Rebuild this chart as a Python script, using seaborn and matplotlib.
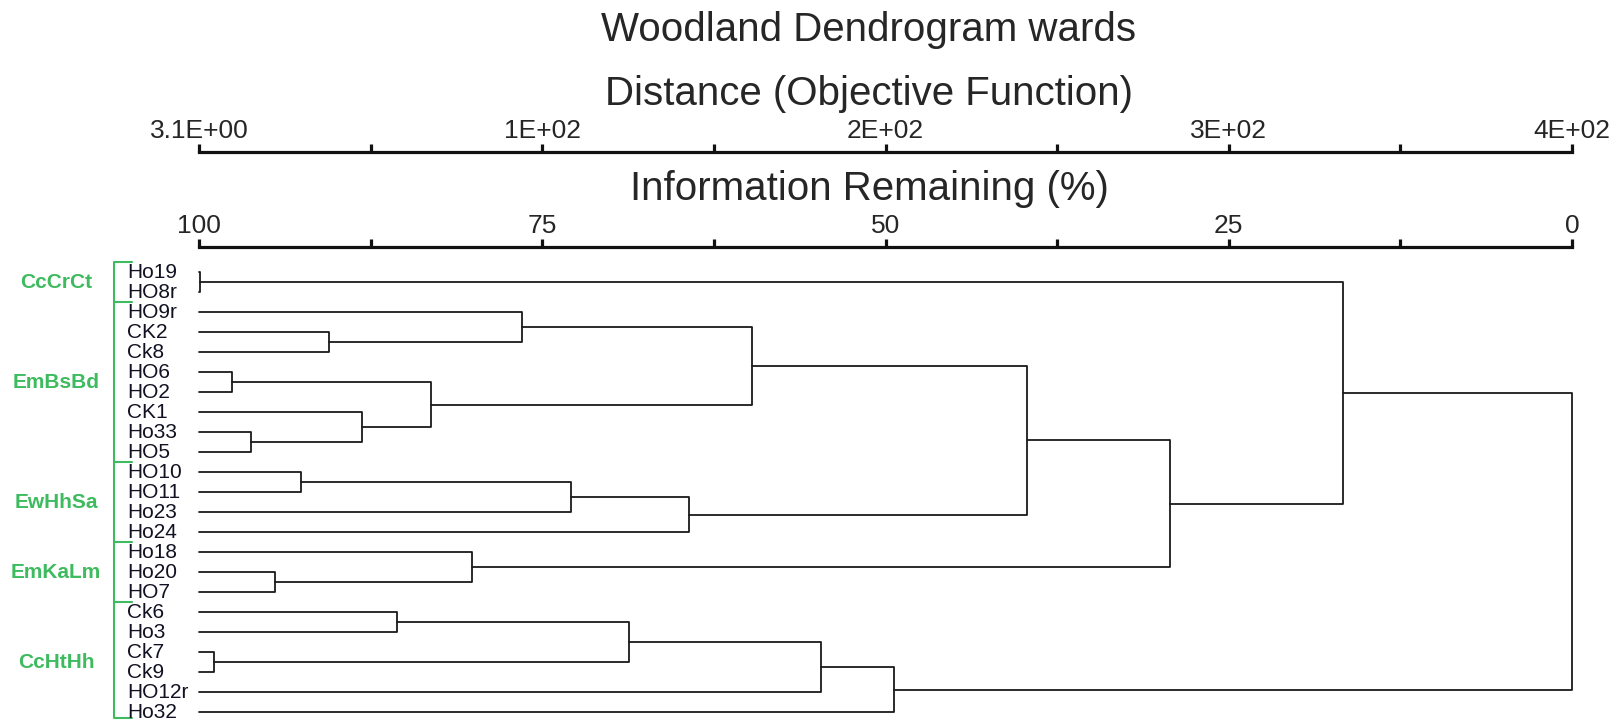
import numpy as np
import pandas as pd
import matplotlib
matplotlib.use("Agg")
import matplotlib.pyplot as plt
import matplotlib.transforms as mtrans
import seaborn as sns

# leaves, top to bottom
leaves = ["Ho19", "HO8r", "HO9r", "CK2", "Ck8", "HO6", "HO2", "CK1", "Ho33", "HO5",
          "HO10", "HO11", "Ho23", "Ho24", "Ho18", "Ho20", "HO7", "Ck6", "Ho3", "Ck7",
          "Ck9", "HO12r", "Ho32"]

# merges: left child, right child, information remaining (%) at the merge
merge_left = ["Ho19", "CK2", "HO9r", "HO6", "Ho33", "CK1", "m3", "m2", "HO10", "m8", "m9",
              "m7", "Ho20", "Ho18", "m11", "m0", "Ck6", "Ck7", "m16", "m18", "m19", "m15"]
merge_right = ["HO8r", "Ck8", "m1", "HO2", "HO5", "m4", "m5", "m6", "HO11", "Ho23", "Ho24",
               "m10", "HO7", "m12", "m13", "m14", "Ho3", "Ck9", "m17", "HO12r", "Ho32", "m20"]
merge_info = [99.92, 90.5, 76.5, 97.6, 96.2, 88.1, 83.1, 59.7, 92.6, 72.9, 64.3,
              39.7, 94.5, 80.1, 29.3, 16.7, 85.6, 98.9, 68.7, 54.7, 49.4, 0.0]

# groups: name, first leaf index, last leaf index
group_names = ["CcCrCt", "EmBsBd", "EwHhSa", "EmKaLm", "CcHtHh"]
group_start = [0, 2, 10, 14, 17]
group_end = [1, 9, 13, 16, 22]

info_ticks = [100, 75, 50, 25, 0]
info_minor = [87.5, 62.5, 37.5, 12.5]
info_labels = ["100", "75", "50", "25", "0"]
dist_labels = ["3.1E+00", "1E+02", "2E+02", "3E+02", "4E+02"]

# ---- build dendrogram segments
pos = {name: (100.0, float(i)) for i, name in enumerate(leaves)}
rows = []
for k, (a, b, h) in enumerate(zip(merge_left, merge_right, merge_info)):
    xa, ya = pos[a]
    xb, yb = pos[b]
    for x, y in [(xa, ya), (h, ya), (h, yb), (xb, yb)]:
        rows.append({"x": x, "y": y, "seg": k})
    pos["m%d" % k] = (h, (ya + yb) / 2)
segs = pd.DataFrame(rows)

sns.set_style("white")
plt.rcParams["font.family"] = ["Liberation Sans", "DejaVu Sans"]

W, H = 1618, 722
fig = plt.figure(figsize=(W / 100, H / 100), dpi=100)

x0, x1 = 199, 1572
left = x0 / W
width = (x1 - x0) / W
top_px = 262.3
ax = fig.add_axes([left, 0, width, (H - top_px) / H])
sns.lineplot(data=segs, x="x", y="y", units="seg", estimator=None, sort=False,
             color="#1a1a1a", lw=1.3, ax=ax)
for ln in ax.lines:
    ln.set_clip_on(False)
ax.set_xlim(100, 0)
ax.set_ylim(-0.5 + (H - top_px) / 20, -0.5)
ax.axis("off")

tr = mtrans.blended_transform_factory(fig.transFigure, ax.transData)
for i, name in enumerate(leaves):
    ax.text(127 / W, i, name, transform=tr, ha="left", va="center",
            fontsize=15, color="#111122")

green = "#3dbb5e"
ax.plot([132 / W, 114 / W, 114 / W, 132 / W], [-0.5, -0.5, 22.3, 22.3],
        transform=tr, color=green, lw=1.5, clip_on=False)
for g, s, e in zip(group_names, group_start, group_end):
    if e < 22:
        ax.plot([114 / W, 132 / W], [e + 0.5, e + 0.5], transform=tr,
                color=green, lw=1.5, clip_on=False)
    ax.text(56 / W, (s + e) / 2, g, transform=tr, ha="center", va="center",
            fontsize=15, fontweight="bold", color=green)


def scale_axis(y_px, labels):
    a = fig.add_axes([left, (H - y_px) / H, width, 0.0001])
    a.set_xlim(100, 0)
    a.set_ylim(0, 1)
    for side in ["left", "right", "bottom"]:
        a.spines[side].set_visible(False)
    a.spines["top"].set_visible(True)
    a.spines["top"].set_linewidth(2.3)
    a.spines["top"].set_color("#111111")
    a.set_yticks([])
    a.xaxis.tick_top()
    a.set_xticks(info_ticks)
    a.set_xticks(info_minor, minor=True)
    a.set_xticklabels(labels)
    a.tick_params(axis="x", which="both", top=True, bottom=False, direction="out",
                  length=6, width=2.3, color="#111111", pad=0.5, labelsize=19)
    a.set_facecolor("none")
    return a


scale_axis(152, dist_labels)
scale_axis(247, info_labels)

cx = 869 / W
fig.text(cx, (H - 30) / H, "Woodland Dendrogram wards", ha="center", va="center", fontsize=29)
fig.text(cx, (H - 94) / H, "Distance (Objective Function)", ha="center", va="center", fontsize=29)
fig.text(cx, (H - 189) / H, "Information Remaining (%)", ha="center", va="center", fontsize=29)

fig.savefig("out.png", dpi=100, facecolor="white")
